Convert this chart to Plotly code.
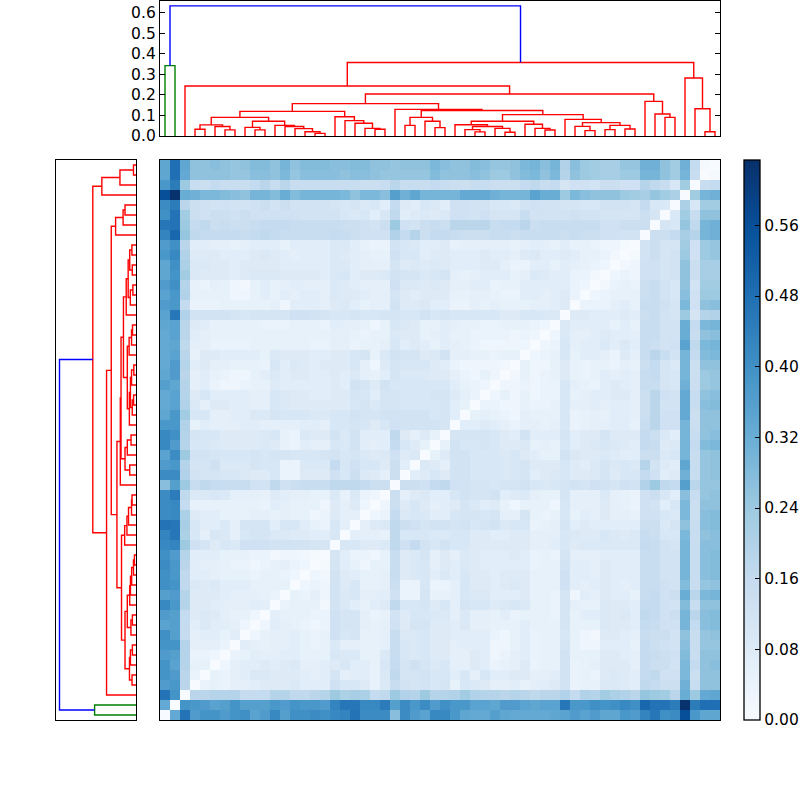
import plotly.graph_objects as go

# Hundredths; rows are leaves k = 55 ... 0, columns c0 ... ck (symmetric matrix, triangle stored)
DIST_ROWS = [
"34 48 34 | 26 26 27 26 25 26 28 28 26 30 26 28 28 28 | 27 27 28 28 26 26 | 25 | 26 26 26 29 27 | 26 26 28 27 25 25 26 29 30 27 30 | 20 27 24 23 22 22 25 25 | 31 31 26 23 | 31 16 01 00",
"34 48 33 | 26 26 26 26 25 25 27 27 26 29 25 27 27 27 | 27 26 27 27 26 25 | 25 | 25 25 25 28 26 | 26 26 27 26 24 24 26 28 29 26 29 | 19 26 24 23 22 22 24 24 | 30 30 26 23 | 30 15 00",
"38 45 24 | 15 14 16 15 15 15 16 18 15 18 15 15 15 15 | 15 15 15 14 14 15 | 18 | 15 15 15 16 15 | 14 14 15 15 14 14 14 16 17 15 16 | 11 13 13 12 14 14 13 13 | 19 17 15 10 | 23 00",
"56 63 32 | 31 29 29 28 27 26 30 30 28 32 28 30 30 30 | 30 29 26 29 29 27 | 36 | 31 34 30 30 30 | 30 33 33 33 31 30 30 30 35 32 32 | 24 29 27 26 26 26 24 23 | 22 25 23 21 | 00",
"41 45 18 | 14 13 12 13 12 12 13 14 12 14 12 12 12 12 | 11 10 11 09 10 07 | 16 | 08 07 10 09 07 | 13 13 12 12 10 10 09 12 13 12 12 | 11 11 10 10 12 12 12 11 | 16 10 09 00",
"40 47 23 | 14 13 14 14 13 14 13 13 13 13 13 12 12 12 | 12 10 09 10 07 10 | 17 | 07 08 09 08 09 | 13 13 12 13 11 11 11 15 12 12 12 | 12 13 12 12 11 11 11 11 | 14 11 00",
"46 47 24 | 16 17 14 15 14 14 15 16 16 16 15 15 15 15 | 15 14 14 13 12 14 | 24 | 13 12 14 15 14 | 18 18 18 18 15 16 16 18 14 15 15 | 15 15 15 15 13 13 14 14 | 14 00",
"43 50 25 | 17 16 16 16 16 15 16 17 16 15 15 15 15 15 | 16 15 14 13 13 13 | 20 | 16 19 14 16 16 | 15 14 14 14 15 15 14 15 15 15 15 | 14 15 14 14 13 13 12 12 | 00",
"37 40 18 | 07 07 06 06 05 06 07 07 07 05 07 07 07 07 | 09 09 07 05 04 04 | 12 | 10 09 07 07 08 | 05 06 06 06 06 06 05 06 07 06 05 | 07 05 05 04 03 03 01 00",
"38 42 20 | 08 08 08 07 07 07 08 09 08 07 06 07 07 07 | 09 08 07 06 05 05 | 13 | 10 10 07 08 08 | 07 07 07 08 07 07 06 08 09 07 07 | 08 07 05 05 04 02 00",
"34 40 21 | 09 09 08 08 07 08 08 08 08 07 07 07 07 07 | 09 09 07 06 06 06 | 11 | 08 09 08 09 08 | 07 07 07 08 08 06 04 04 07 07 05 | 07 06 05 04 03 00",
"34 39 23 | 09 08 08 08 07 08 09 09 09 08 08 08 08 07 | 09 10 07 08 08 09 | 12 | 11 11 09 10 11 | 06 05 06 07 07 07 05 06 09 08 07 | 07 04 04 02 00",
"37 40 19 | 05 04 06 05 03 02 05 07 05 06 07 06 06 06 | 09 08 07 06 06 06 | 13 | 09 09 08 09 08 | 06 06 07 07 04 05 05 07 07 07 07 | 07 04 03 00",
"35 38 20 | 05 05 05 05 03 03 05 07 05 07 06 07 07 06 | 09 08 08 07 06 06 | 11 | 08 07 08 08 08 | 05 05 06 06 05 04 04 07 07 06 07 | 08 04 00",
"37 38 16 | 04 04 04 05 05 05 05 05 06 03 07 07 07 06 | 08 09 07 05 06 06 | 12 | 08 08 09 07 07 | 04 04 06 05 06 05 05 05 06 06 07 | 08 00",
"35 46 20 | 12 12 12 12 11 10 11 11 11 11 13 13 12 11 | 10 10 11 10 10 11 | 11 | 10 10 12 10 11 | 10 10 10 10 10 08 08 10 10 09 09 | 00",
"34 35 18 | 08 07 05 05 05 05 05 04 04 04 05 05 05 04 | 07 06 06 05 03 05 | 10 | 09 08 05 05 07 | 06 05 05 04 04 05 05 05 04 03 00",
"33 35 18 | 07 06 05 05 05 05 05 05 05 05 05 05 05 05 | 06 06 05 04 05 05 | 09 | 08 08 05 06 07 | 05 05 04 04 04 04 03 04 03 00",
"33 34 17 | 06 06 04 04 04 04 05 05 05 05 05 05 04 04 | 06 06 04 05 05 06 | 10 | 07 08 07 05 07 | 06 05 04 03 03 03 03 03 00",
"33 35 18 | 05 08 08 07 07 07 07 05 | 09 08 08 08 07 07 | 08 08 10 11 05 09 | 12 | 11 11 08 09 12 | 06 06 05 05 04 05 05 00",
"33 37 19 | 07 08 06 06 05 05 05 04 | 10 07 09 08 07 08 | 08 08 10 06 03 08 | 11 | 10 10 10 08 07 | 04 03 03 03 03 02 00",
"34 37 18 | 06 07 05 04 03 03 05 07 | 09 07 08 08 07 07 | 08 07 09 06 05 07 | 11 | 09 09 09 08 08 | 06 04 03 05 03 00",
"36 34 19 | 06 07 04 03 03 04 05 05 | 08 07 07 07 07 07 | 08 07 12 11 08 12 | 10 | 10 10 10 10 10 | 07 05 04 03 00",
"33 35 19 | 08 10 07 07 07 07 06 06 | 10 09 08 08 07 07 | 08 08 11 10 07 11 | 11 | 10 10 10 11 11 | 08 06 04 00",
"33 35 20 | 09 06 08 08 07 07 06 06 | 10 09 08 08 08 08 | 08 08 10 11 09 11 | 11 | 10 10 10 10 11 | 07 05 00",
"34 38 23 | 10 10 06 06 07 07 09 09 | 11 10 10 10 09 09 | 10 10 12 11 11 12 | 12 | 12 12 12 10 11 | 07 00",
"38 38 20 | 05 07 06 06 06 07 07 06 | 06 06 06 07 07 06 | 10 10 11 10 08 10 | 13 | 12 12 12 12 11 | 00",
"42 40 19 | 11 10 10 08 08 08 08 09 | 10 05 04 09 08 08 | 12 09 12 07 07 07 | 17 | 08 06 08 05 00",
"42 37 19 | 10 10 09 08 08 08 08 09 | 08 05 04 07 06 06 | 10 09 12 07 06 07 | 16 | 10 08 05 00",
"35 41 24 | 12 12 11 10 10 10 11 10 | 11 11 10 10 10 11 | 12 10 11 09 08 09 | 13 | 08 09 00",
"37 38 19 | 11 11 13 09 09 09 11 10 | 10 04 04 09 09 09 | 16 10 13 10 10 08 | 14 | 07 00",
"41 41 20 | 12 11 11 10 10 09 08 08 | 10 04 04 08 08 08 | 13 10 14 09 08 06 | 14 | 00",
"27 36 24 | 15 17 16 15 15 15 13 12 | 17 13 14 15 15 15 | 17 17 17 16 14 14 | 00",
"41 45 17 | 09 09 10 09 06 06 06 05 | 08 07 06 06 05 05 | 09 05 09 04 03 00",
"41 42 16 | 05 05 05 05 05 05 05 04 | 07 06 05 05 05 03 | 08 06 08 03 00",
"41 42 21 | 08 07 07 05 05 05 06 06 | 05 06 05 05 03 04 | 08 06 06 00",
"47 46 22 | 10 07 07 09 06 11 11 11 | 07 10 10 07 05 04 | 10 06 00",
"43 46 21 | 10 06 10 09 06 10 11 11 | 09 09 08 08 07 07 | 10 00",
"42 43 24 | 13 11 08 10 09 13 13 13 | 12 12 12 12 11 11 | 00",
"40 37 19 | 07 07 07 05 05 05 04 04 | 02 03 03 02 01 00",
"41 38 18 | 07 06 06 05 04 04 03 04 | 05 06 04 03 00",
"40 38 17 | 07 07 06 05 05 05 04 05 | 05 04 03 00",
"40 39 17 | 09 08 09 07 07 07 05 05 | 05 05 00",
"36 37 19 | 08 08 08 07 06 06 06 05 | 04 00",
"42 38 19 | 08 08 07 06 06 06 07 06 | 00",
"37 36 16 | 08 09 08 06 05 05 03 00",
"35 36 16 | 07 09 07 07 06 03 00",
"40 36 16 | 06 07 07 05 07 00",
"39 39 19 | 06 06 06 04 00",
"37 36 19 | 04 04 03 00",
"39 35 19 | 05 05 00",
"39 37 18 | 04 00",
"37 38 18 | 00",
"47 39 00",
"33 00",
"00",
]

L = None  # a leaf; leaves are read left to right
# Dendrogram as nested (height, left, right)
GREEN_TREE = (0.343, L, L)
RED_TREE = (0.358,
    (0.244, L,
        (0.205,
            (0.158,
                (0.120,
                    (0.091,
                        (0.054, (0.033, L, L), (0.046, L, (0.030, L, L))),
                        (0.072,
                            (0.042, L, (0.030, L, L)),
                            (0.052, L, (0.046, L, (0.036, L, (0.021, L, (0.013, L, L))))))),
                    (0.094, L, (0.075, L, (0.062, L, (0.037, L, (0.033, L, L)))))),
                (0.130, L,
                    (0.124,
                        (0.091, (0.052, L, L), (0.072, L, (0.041, L, L))),
                        (0.104,
                            (0.072,
                                (0.055, L, (0.046, (0.031, L, (0.020, L, L)), (0.037, L, (0.018, L, L)))),
                                (0.057, L, (0.037, L, (0.029, L, L)))),
                            (0.081, L,
                                (0.065,
                                    (0.047, L, (0.026, L, L)),
                                    (0.052, (0.031, L, L), (0.034, L, L)))))))),
            (0.169, L, (0.107, L, (0.091, L, L))))),
    (0.283, L, (0.133, L, (0.021, L, L))))
ROOT_HEIGHT = 0.634

COLOR_TICKS = [0.00, 0.08, 0.16, 0.24, 0.32, 0.40, 0.48, 0.56]
HEIGHT_TICKS = [0.0, 0.1, 0.2, 0.3, 0.4, 0.5, 0.6]
BLUES = ["#f7fbff", "#deebf7", "#c6dbef", "#9ecae1", "#6baed6", "#4292c6", "#2171b5", "#08519c", "#08306b"]

N = len(DIST_ROWS)
tri = {}
for row_i, text in enumerate(DIST_ROWS):
    k = N - 1 - row_i
    vals = [int(v) / 100 for v in text.replace("|", " ").split()]
    assert len(vals) == k + 1, (k, len(vals))
    for c, v in enumerate(vals):
        tri[(k, c)] = v
z = [[tri[(max(N - 1 - r, c), min(N - 1 - r, c))] for c in range(N)] for r in range(N)]


class Walker:
    def __init__(self):
        self.next_leaf = 0
        self.xs, self.hs = [], []

    def walk(self, node):
        if node is None:
            p = self.next_leaf * 10 + 5
            self.next_leaf += 1
            return p, 0.0
        h, a, b = node
        xa, ha = self.walk(a)
        xb, hb = self.walk(b)
        self.xs += [xa, xa, xb, xb, None]
        self.hs += [ha, h, h, hb, None]
        return (xa + xb) / 2, h


w = Walker()
green_c, green_h = w.walk(GREEN_TREE)
g_x, g_h = w.xs, w.hs
w.xs, w.hs = [], []
red_c, red_h = w.walk(RED_TREE)
r_x, r_h = w.xs, w.hs
b_x = [green_c, green_c, red_c, red_c]
b_h = [green_h, ROOT_HEIGHT, ROOT_HEIGHT, red_h]

FS = 15.5
FONT = dict(family="DejaVu Sans", size=FS, color="black")
LW = 1.4
fig = go.Figure()
for xs, hs, col in [(r_x, r_h, "#ff0000"), (g_x, g_h, "#008000"), (b_x, b_h, "#0000ff")]:
    fig.add_trace(go.Scatter(x=xs, y=hs, mode="lines", line=dict(color=col, width=LW),
                             xaxis="x", yaxis="y", showlegend=False, hoverinfo="skip"))
    fig.add_trace(go.Scatter(x=hs, y=xs, mode="lines", line=dict(color=col, width=LW),
                             xaxis="x2", yaxis="y2", showlegend=False, hoverinfo="skip"))

fig.add_trace(go.Heatmap(
    z=z, xaxis="x3", yaxis="y3", zmin=0, zmax=ROOT_HEIGHT, hoverinfo="skip",
    colorscale=[[i / 8, c] for i, c in enumerate(BLUES)],
    colorbar=dict(
        x=744 / 800, xanchor="left", xpad=0, y=(800 - 720) / 800, yanchor="bottom", ypad=0,
        len=0.7, lenmode="fraction", thickness=16, thicknessmode="pixels",
        outlinecolor="black", outlinewidth=1.3,
        tickmode="array", tickvals=COLOR_TICKS, ticktext=[f"{v:.2f}" for v in COLOR_TICKS],
        ticks="inside", ticklen=5, tickcolor="black", tickwidth=1,
        tickfont=FONT,
    ),
))

frame = dict(showline=True, linecolor="black", linewidth=1.3, mirror=True, zeroline=False, showgrid=False)
fig.update_layout(
    width=800, height=800, margin=dict(l=0, r=0, t=0, b=0, autoexpand=False),
    paper_bgcolor="white", plot_bgcolor="white", font=FONT, showlegend=False,
    xaxis=dict(domain=[160 / 800, 720 / 800], range=[0, 560], showticklabels=False, ticks="", anchor="y", **frame),
    yaxis=dict(domain=[664 / 800, 799 / 800], range=[0, 0.658], anchor="x", tickmode="array", tickvals=HEIGHT_TICKS,
               ticktext=[f"{v:.1f}" for v in HEIGHT_TICKS], ticks="inside", ticklen=5, tickcolor="black",
               tickfont=FONT, showline=True, linecolor="black", linewidth=1.3, mirror="ticks",
               zeroline=False, showgrid=False),
    xaxis2=dict(domain=[56 / 800, 136 / 800], range=[0.663, 0], showticklabels=False, ticks="", anchor="y2", **frame),
    yaxis2=dict(domain=[80 / 800, 640 / 800], range=[0, 560], showticklabels=False, ticks="", anchor="x2", **frame),
    xaxis3=dict(domain=[160 / 800, 720 / 800], range=[-0.5, N - 0.5], showticklabels=False, ticks="", anchor="y3", **frame),
    yaxis3=dict(domain=[80 / 800, 640 / 800], range=[N - 0.5, -0.5], showticklabels=False, ticks="", anchor="x3", **frame),
)
fig.write_html("out.html", config=dict(displayModeBar=False),
               post_script="document.documentElement.style.overflow='hidden';"
                           "document.body.style.margin='0';document.body.style.overflow='hidden';")
